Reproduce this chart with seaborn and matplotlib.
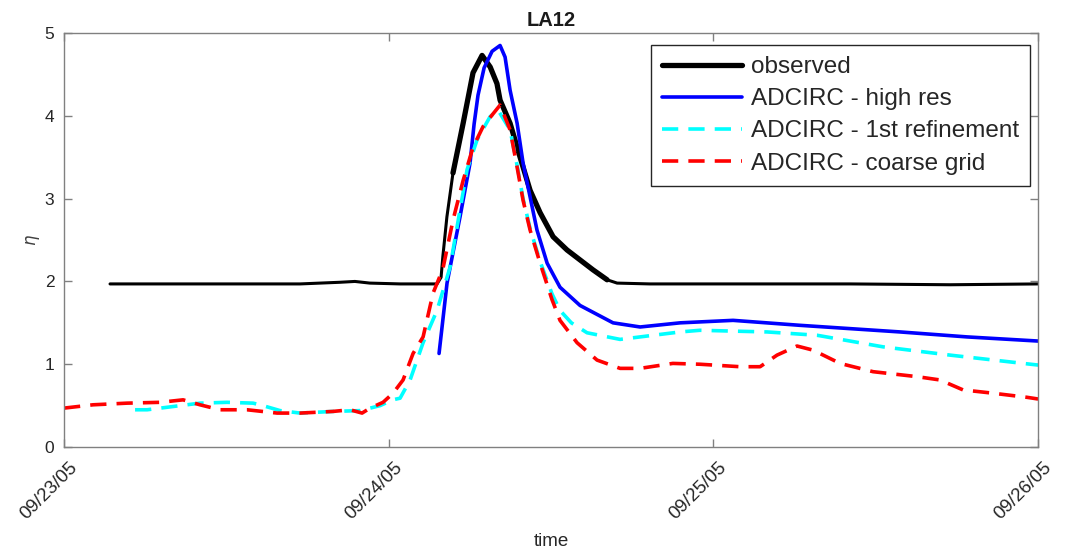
import numpy as np
import pandas as pd
import matplotlib
matplotlib.use("Agg")
import matplotlib.pyplot as plt
import matplotlib.dates as mdates
import matplotlib.transforms as mtransforms
import seaborn as sns

# ---- data (hours after 09/23/05 00:00, water level eta) ----
obs_h = [3.4, 10.05, 17.45, 20.4, 21.5, 22.6, 24.85, 27.57, 27.87, 28.0, 28.3, 28.75,
         29.5, 30.23, 30.9, 31.5, 32.0, 32.23, 32.97, 33.71, 34.45, 35.19, 36.15,
         37.18, 38.14, 39.1, 40.14, 40.88, 43.3, 50.7, 58.1, 65.5, 72.0]
obs_v = [1.97, 1.97, 1.97, 1.99, 2.00, 1.98, 1.97, 1.97, 2.05, 2.3, 2.78, 3.31,
         3.91, 4.52, 4.73, 4.59, 4.39, 4.19, 3.91, 3.50, 3.10, 2.83, 2.54,
         2.38, 2.26, 2.14, 2.02, 1.98, 1.97, 1.97, 1.97, 1.96, 1.97]

hi_h = [27.72, 28.31, 29.27, 30.01, 30.31, 30.6, 31.05, 31.64, 32.23, 32.6, 32.97,
        33.49, 33.93, 34.45, 34.96, 35.71, 36.66, 38.14, 40.58, 42.58, 45.54, 49.45,
        54.4, 61.8, 66.75, 72.0]
hi_v = [1.13, 1.98, 2.78, 3.43, 3.9, 4.25, 4.58, 4.78, 4.85, 4.71, 4.31,
        3.91, 3.43, 3.02, 2.62, 2.22, 1.93, 1.71, 1.50, 1.45, 1.50, 1.53,
        1.47, 1.39, 1.33, 1.28]

ref_h = [5.25, 6.14, 7.61, 10.05, 12.05, 13.97, 14.49, 15.97, 17.45, 19.9, 21.9, 23.36,
         24.3, 24.84, 25.58, 26.54, 27.57, 28.53, 29.79, 30.53, 31.49, 32.08, 32.97,
         33.49, 33.93, 34.45, 35.19, 36.07, 36.66, 37.5, 38.66, 41.1, 45.54, 47.0,
         51.97, 55.66, 60.54, 65.5, 70.9, 72.0]
ref_v = [0.45, 0.45, 0.48, 0.53, 0.54, 0.53, 0.51, 0.44, 0.41, 0.43, 0.44, 0.5,
         0.57, 0.59, 0.81, 1.26, 1.65, 2.17, 3.35, 3.71, 3.99, 4.07, 3.83,
         3.40, 3.00, 2.64, 2.24, 1.85, 1.65, 1.50, 1.38, 1.30, 1.39, 1.41,
         1.39, 1.35, 1.21, 1.11, 1.01, 0.99]

crs_h = [0.0, 2.14, 4.66, 7.1, 8.8, 10.05, 11.53, 13.53, 15.75, 17.45, 19.88, 21.14,
         22.03, 22.62, 23.58, 24.32, 25.06, 25.8, 26.54, 27.28, 28.0, 28.75, 29.5,
         30.23, 30.97, 31.64, 32.23, 32.97, 33.49, 33.93, 34.45, 35.19, 36.07, 36.66,
         37.92, 39.4, 41.1, 42.58, 45.0, 47.0, 49.97, 51.45, 52.7, 54.18, 55.37,
         57.36, 59.8, 63.05, 64.75, 66.45, 68.67, 71.2, 72.0]
crs_v = [0.47, 0.51, 0.53, 0.54, 0.57, 0.51, 0.45, 0.45, 0.41, 0.41, 0.43, 0.45,
         0.41, 0.47, 0.54, 0.65, 0.81, 1.13, 1.33, 1.86, 2.15, 2.74, 3.22,
         3.62, 3.87, 4.01, 4.13, 3.83, 3.38, 2.98, 2.62, 2.22, 1.78, 1.53,
         1.26, 1.05, 0.95, 0.95, 1.01, 1.00, 0.97, 0.97, 1.11, 1.22, 1.17,
         1.01, 0.91, 0.85, 0.81, 0.69, 0.65, 0.60, 0.58]

labels = ["observed", "ADCIRC - high res", "ADCIRC - 1st refinement", "ADCIRC - coarse grid"]
day_ticks = ["2005-09-23", "2005-09-24", "2005-09-25", "2005-09-26"]
title = "LA12"

base = pd.Timestamp("2005-09-23")

def frame(h, v):
    return pd.DataFrame({"time": base + pd.to_timedelta(np.array(h), unit="h"), "eta": v})

sns.set_theme(style="ticks")
plt.rcParams["font.family"] = ["Liberation Sans", "DejaVu Sans"]

fig = plt.figure(figsize=(10.78, 5.51), dpi=100)
ax = fig.add_axes([0.0594, 0.1887, 0.9036, 0.7513])

obs = frame(obs_h, obs_v)
peak = obs[(obs["time"] >= base + pd.Timedelta(hours=28.75)) &
           (obs["time"] <= base + pd.Timedelta(hours=40.2))]
# noisy observed record appears as a thick band around the surge
sns.lineplot(data=peak, x="time", y="eta", ax=ax, color="black", lw=3.8,
             label=labels[0])
sns.lineplot(data=obs, x="time", y="eta", ax=ax, color="black", lw=2.2)
sns.lineplot(data=frame(hi_h, hi_v), x="time", y="eta", ax=ax, color="#0000ff",
             lw=2.6, label=labels[1])
l3 = sns.lineplot(data=frame(ref_h, ref_v), x="time", y="eta", ax=ax, color="#00ffff",
                  lw=2.6, label=labels[2]).lines[-1]
l3.set_dashes((4.5, 2.8))
l4 = sns.lineplot(data=frame(crs_h, crs_v), x="time", y="eta", ax=ax, color="#ff0000",
                  lw=2.6, label=labels[3]).lines[-1]
l4.set_dashes((4.5, 2.8))

ax.set_xlim(pd.Timestamp(day_ticks[0]), pd.Timestamp(day_ticks[-1]))
ax.set_ylim(0, 5)
ax.set_xticks([pd.Timestamp(d) for d in day_ticks])
ax.xaxis.set_major_formatter(mdates.DateFormatter("%m/%d/%y"))
ax.set_yticks([0, 1, 2, 3, 4, 5])

gray = "#808080"
for s in ax.spines.values():
    s.set_visible(True)
    s.set_color(gray)
    s.set_linewidth(1.0)
ax.tick_params(direction="in", length=5.5, width=1.0, color=gray, labelcolor="#262626",
               top=True, right=True)
ax.tick_params(axis="y", labelsize=12.5, pad=7)
ax.tick_params(axis="x", labelsize=13.5, pad=8.5)
offset = mtransforms.ScaledTranslation(5 / 100, 0, fig.dpi_scale_trans)
for lab in ax.get_xticklabels():
    lab.set_rotation(45)
    lab.set_ha("right")
    lab.set_rotation_mode("anchor")
    lab.set_transform(lab.get_transform() + offset)

ax.set_title(title, fontsize=14.5, fontweight="bold", color="#1a1a1a", pad=5)
ax.set_xlabel("time", fontsize=13.5, color="#262626", labelpad=7.5)
ax.set_ylabel(r"$\eta$", fontsize=12, color="#404040", labelpad=2)

leg = ax.legend(loc="upper right", bbox_to_anchor=(1 - 8 / 974, 1 - 12 / 414),
                borderaxespad=0, fontsize=17.5, frameon=True, fancybox=False,
                framealpha=1, edgecolor="#262626", handlelength=3.3,
                labelspacing=0.42, handletextpad=0.37, borderpad=0.45)
leg.get_frame().set_linewidth(1.0)

fig.savefig("out.png", dpi=100)
